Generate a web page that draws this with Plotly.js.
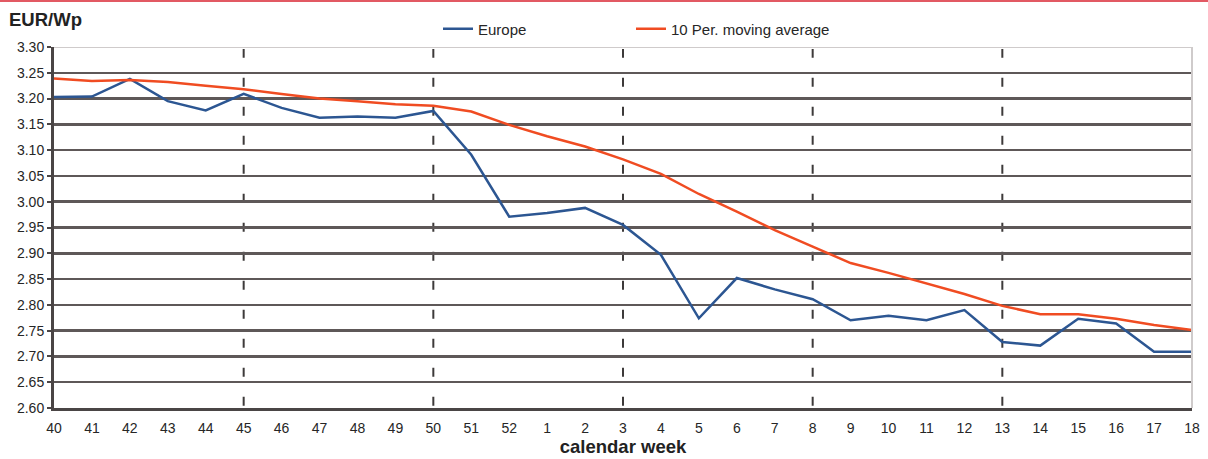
<!DOCTYPE html>
<html>
<head>
<meta charset="utf-8">
<script src="https://cdn.plot.ly/plotly-3.0.1.min.js"></script>
<style>
  html, body { margin: 0; padding: 0; background: #fff; }
  #chart { width: 1208px; height: 459px; }
</style>
</head>
<body>
<div id="chart"></div>
<script>
// Calendar weeks (end of one year into the next)
const weeks = ['40','41','42','43','44','45','46','47','48','49','50','51','52',
               '1','2','3','4','5','6','7','8','9','10','11','12','13','14','15','16','17','18'];

// Module price, EUR per watt-peak
const europe = [3.203, 3.204, 3.238, 3.195, 3.177, 3.209, 3.182, 3.163, 3.165, 3.163, 3.176,
                3.091, 2.971, 2.978, 2.988, 2.955, 2.897, 2.774, 2.852, 2.830, 2.811,
                2.770, 2.779, 2.770, 2.790, 2.728, 2.721, 2.773, 2.764, 2.709, 2.709];

// 10-period moving average
const movingAvg = [3.239, 3.234, 3.236, 3.232, 3.225, 3.218, 3.209, 3.200, 3.195, 3.189, 3.186,
                   3.175, 3.149, 3.127, 3.107, 3.082, 3.054, 3.015, 2.981, 2.945, 2.913,
                   2.881, 2.862, 2.842, 2.821, 2.798, 2.782, 2.782, 2.773, 2.761, 2.751];

const yTicks = [2.60, 2.65, 2.70, 2.75, 2.80, 2.85, 2.90, 2.95, 3.00, 3.05, 3.10, 3.15, 3.20, 3.25, 3.30];

// Weeks marked with a dashed vertical guide
const markedWeeks = ['45', '50', '3', '8', '13'];

const FONT = 'Liberation Sans, Arial, sans-serif';

const traces = [
  {
    x: weeks, y: europe, type: 'scatter', mode: 'lines', name: 'Europe',
    line: { color: '#2c5692', width: 2.5 }, legend: 'legend'
  },
  {
    x: weeks, y: movingAvg, type: 'scatter', mode: 'lines', name: '10 Per. moving average',
    line: { color: '#f04c22', width: 2.5 }, legend: 'legend2'
  }
];

const shapes = [];
// dashed guides
markedWeeks.forEach(w => {
  const i = weeks.indexOf(w);
  shapes.push({
    type: 'line', xref: 'x', yref: 'paper', x0: i, x1: i, y0: 0.995, y1: -0.012,
    layer: 'below', line: { color: '#3d3a3a', width: 2, dash: '9px,20px' }
  });
});
// light top gridline and right frame
shapes.push({
  type: 'line', xref: 'paper', yref: 'y', x0: 0, x1: 1, y0: 3.30, y1: 3.30,
  layer: 'above', line: { color: '#ffffff', width: 4 }
});
shapes.push({
  type: 'line', xref: 'paper', yref: 'y', x0: 0, x1: 1, y0: 3.30, y1: 3.30,
  layer: 'above', line: { color: '#cfcbcb', width: 2 }
});
shapes.push({
  type: 'line', xref: 'paper', yref: 'paper', x0: 1, x1: 1, y0: 0, y1: 1,
  layer: 'above', line: { color: '#cfcbcb', width: 2 }
});
// red rule across the top of the page
shapes.push({
  type: 'line', xref: 'paper', yref: 'paper',
  x0: -54 / 1138, x1: 1154 / 1138, y0: 407 / 361, y1: 407 / 361,
  layer: 'above', line: { color: '#d8222f', width: 1.5 }
});

const legendBase = {
  orientation: 'h', xanchor: 'left',
  y: (408 - 29) / 361, yanchor: 'middle',
  font: { family: FONT, size: 15, color: '#262626' },
  bgcolor: 'rgba(0,0,0,0)'
};

const layout = {
  width: 1208, height: 459,
  margin: { l: 54, r: 16, t: 47, b: 51 },
  paper_bgcolor: '#ffffff', plot_bgcolor: '#ffffff',
  font: { family: FONT, size: 14, color: '#262626' },
  title: {
    text: '<b>EUR/Wp</b>',
    xref: 'container', yref: 'container',
    x: 9 / 1208, xanchor: 'left',
    y: 1 - 20 / 459, yanchor: 'middle',
    font: { family: FONT, size: 18.5, color: '#222' }
  },
  showlegend: true,
  legend: Object.assign({}, legendBase, { x: (438 - 54) / 1138 }),
  legend2: Object.assign({}, legendBase, { x: (631 - 54) / 1138 }),
  xaxis: {
    type: 'category', categoryorder: 'array', categoryarray: weeks,
    range: [0, weeks.length - 1],
    showgrid: false, zeroline: false,
    showline: true, linecolor: '#4a4545', linewidth: 2.5,
    ticks: '', ticklabelstandoff: 6,
    tickfont: { family: FONT, size: 14, color: '#262626' },
    title: { text: '<b>calendar week</b>', font: { family: FONT, size: 18.5, color: '#222' }, standoff: 2 },
    fixedrange: true
  },
  yaxis: {
    range: [2.60, 3.30], tickvals: yTicks, tickformat: '.2f',
    showgrid: true, gridcolor: '#5e5858', gridwidth: 2.5,
    zeroline: false, showline: true, linecolor: '#4a4545', linewidth: 3,
    ticks: 'outside', ticklen: 4, tickcolor: '#4a4545', tickwidth: 2,
    tickfont: { family: FONT, size: 14, color: '#262626' },
    fixedrange: true
  },
  shapes: shapes
};

Plotly.newPlot('chart', traces, layout, { displayModeBar: false, staticPlot: true });
</script>
</body>
</html>
